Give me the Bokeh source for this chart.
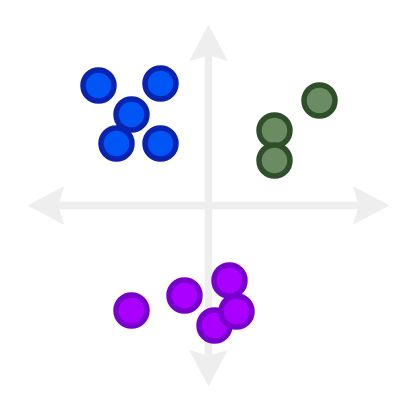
from bokeh.plotting import figure
from bokeh.models import Range1d
from bokeh.embed import file_html
from bokeh.resources import INLINE

# Data (arbitrary units, origin at the crossing of the arrows)
blue_x = [-11.0, -4.8, -9.2, -4.8, -7.7]
blue_y = [12.0, 12.2, 6.2, 6.2, 9.1]
green_x = [11.1, 6.6, 6.6]
green_y = [10.5, 7.5, 4.5]
purple_x = [-7.7, -2.4, 0.6, 2.1, 2.8]
purple_y = [-10.5, -9.0, -12.0, -7.5, -10.6]

# Axis arrows extent
arm = 18.0
head_len = 3.5
head_half = 1.85
notch = 2.9

p = figure(width=401, height=401, output_backend="svg", toolbar_location=None,
           x_range=Range1d(-20.8, 19.3), y_range=Range1d(-19.6, 20.5),
           min_border=0, outline_line_color=None)
p.axis.visible = False
p.grid.visible = False
p.background_fill_color = "white"
p.border_fill_color = "white"

arrow_color = "#eeeeee"
# shafts
p.segment(x0=[-arm + notch, 0], y0=[0, -arm + notch], x1=[arm - notch, 0], y1=[0, arm - notch],
          line_color=arrow_color, line_width=7.5)

# heads (concave arrowheads) built from arm / head sizes
def head(dx, dy):
    tx, ty = dx * arm, dy * arm
    bx, by = dx * (arm - head_len), dy * (arm - head_len)
    nx, ny = dx * (arm - notch), dy * (arm - notch)
    px, py = -dy * head_half, dx * head_half
    return [tx, bx + px, nx, bx - px], [ty, by + py, ny, by - py]

hx, hy = [], []
for d in [(1, 0), (-1, 0), (0, 1), (0, -1)]:
    xs, ys = head(*d)
    hx.append(xs)
    hy.append(ys)
p.patches(xs=hx, ys=hy, fill_color=arrow_color, line_color=arrow_color, line_width=1)

size = 31
lw = 5.5
p.scatter(blue_x, blue_y, size=size, fill_color="#0055f5", line_color="#0a22b0", line_width=lw)
p.scatter(green_x, green_y, size=size, fill_color="#6a8c63", line_color="#2f4f2b", line_width=lw)
p.scatter(purple_x, purple_y, size=size, fill_color="#aa00ff", line_color="#7700cc", line_width=lw)

open("out.html", "w").write(file_html(p, INLINE))
